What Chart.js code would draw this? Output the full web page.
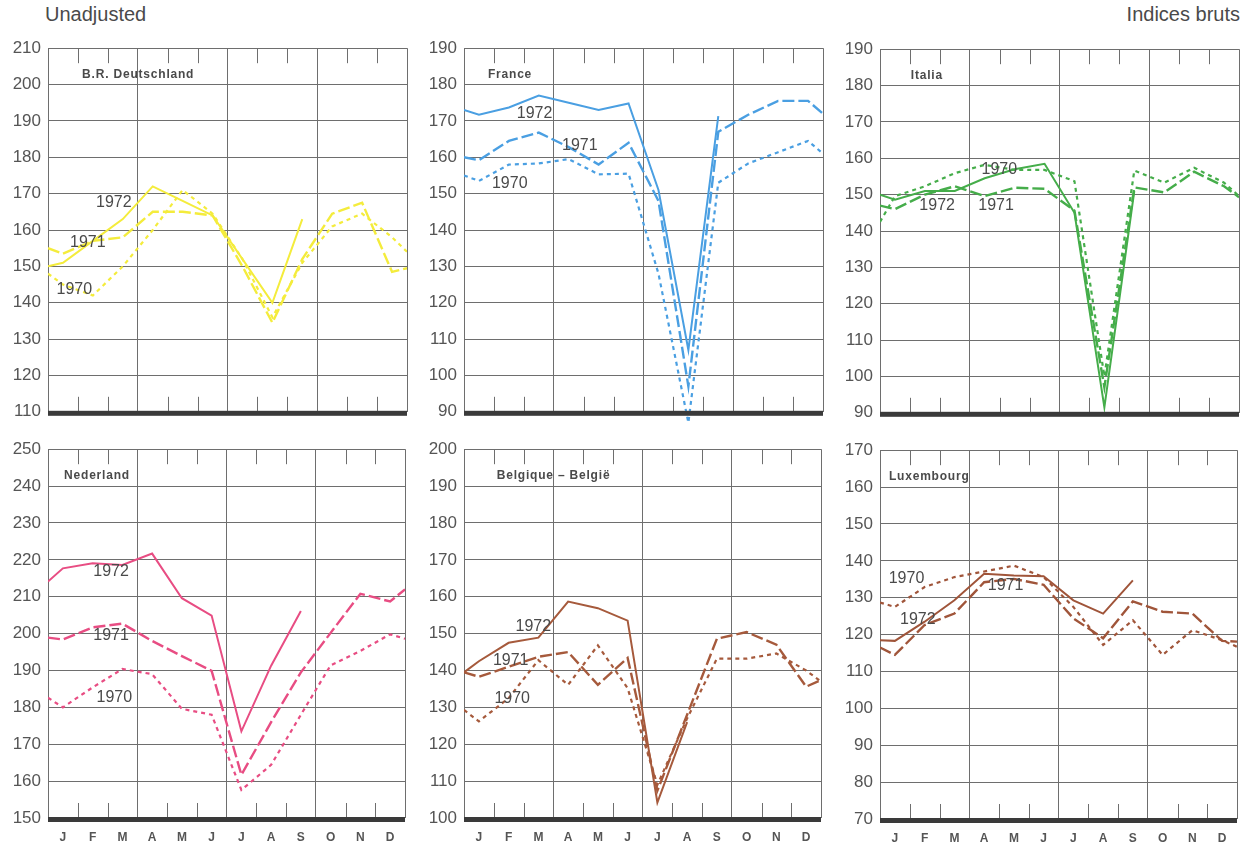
<!DOCTYPE html>
<html>
<head>
<meta charset="utf-8">
<script src="https://cdn.jsdelivr.net/npm/chart.js@4.4.1/dist/chart.umd.min.js"></script>
<style>
  body { margin: 0; background: #fff; width: 1256px; height: 850px; position: relative; overflow: hidden;
         font-family: "Liberation Sans", Arial, sans-serif; }
  .title { position: absolute; top: 3px; font-size: 20px; color: #4a4a4a; }
  .panel { position: absolute; }
</style>
</head>
<body>
<div class="title" style="left:45px">Unadjusted</div>
<div class="title" style="right:16px">Indices bruts</div>

<div class="panel" style="left:0px;top:31px;width:417px;height:398px"><canvas id="c1"></canvas></div>
<div class="panel" style="left:416px;top:31px;width:417px;height:398px"><canvas id="c2"></canvas></div>
<div class="panel" style="left:832px;top:32px;width:417px;height:398px"><canvas id="c3"></canvas></div>
<div class="panel" style="left:0px;top:432px;width:417px;height:416px"><canvas id="c4"></canvas></div>
<div class="panel" style="left:416px;top:432px;width:417px;height:416px"><canvas id="c5"></canvas></div>
<div class="panel" style="left:832px;top:433px;width:417px;height:416px"><canvas id="c6"></canvas></div>

<script>
// months, plus left / right edge of the year where the lines run out of the frame
const months = ['J', 'F', 'M', 'A', 'M', 'J', 'J', 'A', 'S', 'O', 'N', 'D'];
const xPos = [0, 0.5, 1.5, 2.5, 3.5, 4.5, 5.5, 6.5, 7.5, 8.5, 9.5, 10.5, 11.5, 12];
const years = ['1970', '1971', '1972'];

// values: [edge, J F M A M J J A S O N D, edge]
const de1970 = [148, 145, 142, 150, 160, 171, 164.5, 152, 136, 151, 161, 164.5, 158, 154];
const de1971 = [155, 153.5, 157, 158, 165, 165, 164, 150, 134.5, 152, 164.5, 167.5, 148.5, 149.5];
const de1972 = [150, 151, 157, 163, 172, 168, 164, 152, 140, 163, null, null, null, null];

const fr1970 = [155, 153.5, 158, 158.3, 159.5, 155.3, 155.5, 128, 87, 153, 158.3, 161.4, 164.5, 161];
const fr1971 = [160, 159.2, 164.5, 166.8, 162.8, 158, 164, 148, 97, 167, 171.7, 175.5, 175.5, 172];
const fr1972 = [173, 171.7, 173.7, 177, 175, 173, 174.8, 151, 107, 171.3, null, null, null, null];

const it1970 = [142.5, 149.6, 152.3, 155.9, 158.2, 156.8, 156.8, 153.7, 100, 156.6, 153.3, 157.4, 153.3, 149.6];
const it1971 = [147, 146, 150, 152.3, 149.6, 151.9, 151.6, 145.6, 97, 152, 150.6, 156.3, 152.3, 149.3];
const it1972 = [150, 148.6, 151, 151, 154.5, 157, 158.5, 145, 91.5, 151, null, null, null, null];

const nl1970 = [182.6, 180, 185.4, 190.4, 189, 179.6, 178, 157.6, 164.4, 178, 191.4, 195.3, 199.8, 198.6];
const nl1971 = [198.9, 198.4, 201.7, 202.7, 198, 193.9, 189.9, 161.7, 176, 189.5, 200.2, 210.8, 208.7, 212];
const nl1972 = [214.1, 217.7, 219.1, 218.6, 221.7, 209.6, 204.9, 173.5, 191.3, 206.1, null, null, null, null];

const be1970 = [129.3, 126.2, 132.5, 142.8, 136.1, 146.8, 135.2, 109, 127, 143.2, 143.2, 144.6, 140, 137];
const be1971 = [139.5, 138.3, 141, 143.7, 145, 136.1, 143.4, 107.4, 128, 148.6, 150.4, 147, 135.6, 137.4];
const be1972 = [139.5, 142.5, 147.5, 148.9, 158.7, 156.9, 153.5, 104.2, 126, null, null, null, null, null];

const lu1970 = [128.7, 127.5, 132.9, 135.6, 137.1, 138.7, 135.6, 127.5, 117.2, 123.9, 114.5, 121.2, 118.5, 116.7];
const lu1971 = [116.5, 114.5, 122.6, 125.7, 134.2, 135.1, 133.5, 124.4, 119, 129, 126.2, 125.7, 118.3, 118.1];
const lu1972 = [118.5, 118.3, 123.5, 129.3, 136.5, 136, 135.8, 129.3, 125.7, 134.7, null, null, null, null];

const GRID = '#6e6e6e';
const TEXT = '#4a4a4a';

const panels = [
  { id: 'c1', name: 'B.R. Deutschland', nameX: 1.14, color: '#f4ec3c', min: 110, max: 210,
    series: [de1970, de1971, de1972], tags: [[0.88, 143.6], [1.33, 156.6], [2.2, 167.5]], months: false },
  { id: 'c2', name: 'France', nameX: 0.8, color: '#4a9fe2', min: 90, max: 190,
    series: [fr1970, fr1971, fr1972], tags: [[1.53, 152.9], [3.87, 163.2], [2.36, 172.1]], months: false },
  { id: 'c3', name: 'Italia', nameX: 1.03, color: '#45ad4a', min: 90, max: 190,
    series: [it1970, it1971, it1972], tags: [[3.99, 156.8], [3.88, 147], [1.91, 147]], months: false },
  { id: 'c4', name: 'Nederland', nameX: 0.54, color: '#e84d83', min: 150, max: 250,
    series: [nl1970, nl1971, nl1972], tags: [[2.23, 182.7], [2.12, 199.5], [2.12, 216.8]], months: true },
  { id: 'c5', name: 'Belgique \u2013 Belgi\u00eb', nameX: 1.1, color: '#a65a3c', min: 100, max: 200,
    series: [be1970, be1971, be1972], tags: [[1.62, 132.5], [1.57, 142.8], [2.33, 152]], months: true },
  { id: 'c6', name: 'Luxembourg', nameX: 0.3, color: '#a0553a', min: 70, max: 170,
    series: [lu1970, lu1971, lu1972], tags: [[0.89, 135.3], [4.22, 133.2], [1.27, 124.1]], months: true }
];

const styles = [
  { dash: [4, 4], width: 2.2 },
  { dash: [12, 4], width: 2.4 },
  { dash: [], width: 2 }
];

// tick stubs, thick base line, country name and year tags
const decor = {
  id: 'decor',
  beforeDatasetsDraw(chart) {
    const { ctx, chartArea: a, scales: { x } } = chart;
    ctx.save();
    ctx.strokeStyle = GRID;
    ctx.lineWidth = 1;
    for (let m = 1; m < 12; m++) {
      if (m % 3 === 0) continue;
      const px = Math.round(x.getPixelForValue(m)) + 0.5;
      ctx.beginPath();
      ctx.moveTo(px, a.top); ctx.lineTo(px, a.top + 15);
      ctx.moveTo(px, a.bottom - 15); ctx.lineTo(px, a.bottom);
      ctx.stroke();
    }
    ctx.restore();
  },
  afterDatasetsDraw(chart, args, opts) {
    const { ctx, chartArea: a, scales: { x, y } } = chart;
    ctx.save();
    ctx.fillStyle = '#3a3a3a';
    ctx.fillRect(a.left, a.bottom - 1, a.right - a.left, 5);

    ctx.fillStyle = TEXT;
    ctx.textBaseline = 'middle';
    ctx.font = 'bold 12px "Liberation Sans", Arial, sans-serif';
    ctx.letterSpacing = '0.8px';
    ctx.textAlign = 'left';
    ctx.fillText(opts.name, x.getPixelForValue(opts.nameX), a.top + 26);

    ctx.letterSpacing = '0px';
    ctx.font = '16px "Liberation Sans", Arial, sans-serif';
    ctx.textAlign = 'center';
    opts.tags.forEach((t, i) => {
      ctx.fillText(years[i], x.getPixelForValue(t[0]), y.getPixelForValue(t[1]));
    });
    ctx.restore();
  }
};

panels.forEach(p => {
  const datasets = p.series.map((vals, i) => ({
    label: years[i],
    data: xPos.map((x, k) => ({ x, y: vals[k] })),
    borderColor: p.color,
    borderWidth: styles[i].width,
    borderDash: styles[i].dash,
    pointRadius: 0,
    tension: 0,
    spanGaps: false,
    clip: { left: 0, top: 2, right: 0, bottom: 16 }
  }));

  new Chart(document.getElementById(p.id), {
    type: 'line',
    data: { datasets },
    options: {
      responsive: true,
      maintainAspectRatio: false,
      animation: false,
      layout: { padding: { left: 0, top: 14, right: 10, bottom: 0 } },
      plugins: {
        legend: { display: false },
        tooltip: { enabled: false },
        decor: { name: p.name, nameX: p.nameX, tags: p.tags }
      },
      scales: {
        x: {
          type: 'linear',
          min: 0,
          max: 12,
          afterBuildTicks: s => {
            const t = [];
            for (let v = 0; v <= 12; v += 0.5) t.push({ value: v });
            s.ticks = t;
          },
          afterFit: s => { s.height = p.months ? 30 : 12; },
          border: { display: false },
          grid: {
            drawTicks: false,
            lineWidth: 1,
            color: c => (c.tick && c.tick.value % 3 === 0) ? GRID : 'rgba(0,0,0,0)'
          },
          ticks: {
            display: p.months,
            autoSkip: false,
            maxRotation: 0,
            minRotation: 0,
            padding: 12,
            color: '#555',
            font: { family: '"Liberation Sans", Arial, sans-serif', size: 12, weight: 'bold' },
            callback: v => (v % 1 === 0.5) ? months[Math.floor(v)] : ''
          }
        },
        y: {
          min: p.min,
          max: p.max,
          afterFit: s => { s.width = 48; },
          border: { display: false },
          grid: { drawTicks: false, color: GRID, lineWidth: 1 },
          ticks: {
            stepSize: 10,
            padding: 7,
            color: '#555',
            font: { family: '"Liberation Sans", Arial, sans-serif', size: 17 }
          }
        }
      }
    },
    plugins: [decor]
  });
});
</script>
</body>
</html>
